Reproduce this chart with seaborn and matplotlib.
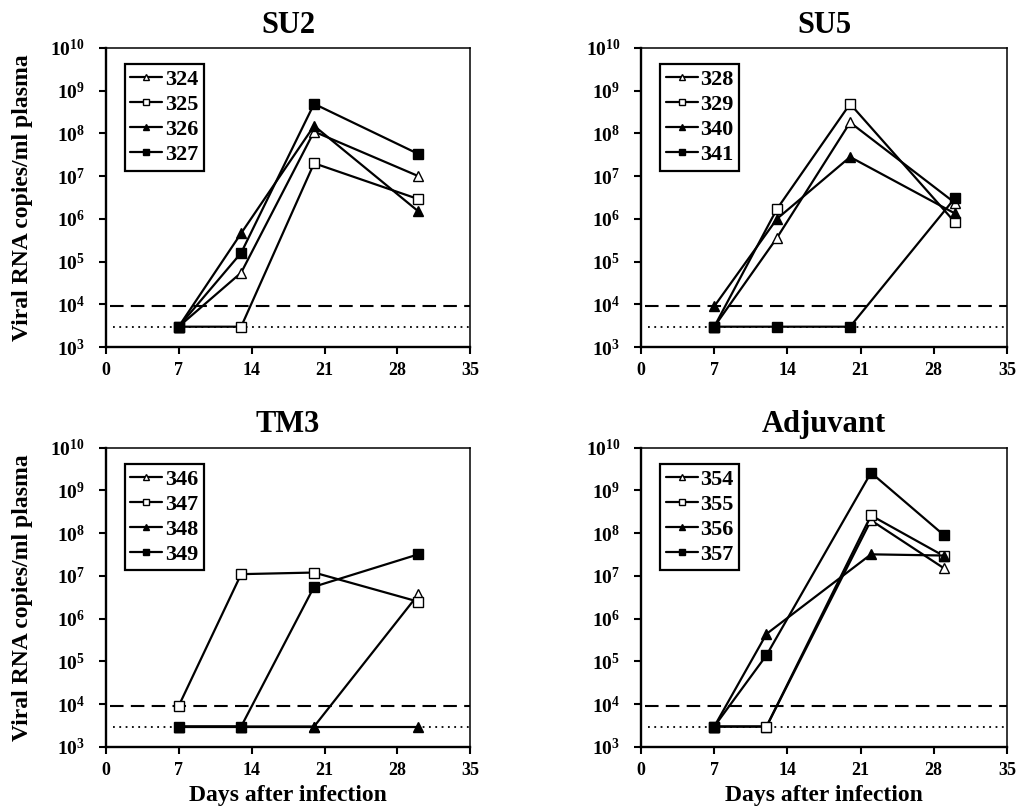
import matplotlib
matplotlib.use("Agg")
import matplotlib.pyplot as plt
import numpy as np
import pandas as pd
import seaborn as sns
from matplotlib.ticker import NullLocator, LogFormatterMathtext

# Viral RNA in plasma after infection, four vaccine groups

panel_titles = ["SU2", "SU5", "TM3", "Adjuvant"]

days_su2 = [7, 13, 20, 30]
su2_ids = ["324", "325", "326", "327"]
su2_vals = [[3e3, 5.5e4, 1.1e8, 1.0e7],
            [3e3, 3e3, 2.0e7, 2.9e6],
            [3e3, 4.6e5, 1.5e8, 1.5e6],
            [3e3, 1.6e5, 4.9e8, 3.3e7]]

days_su5 = [7, 13, 20, 30]
su5_ids = ["328", "329", "340", "341"]
su5_vals = [[3e3, 3.6e5, 1.8e8, 2.4e6],
            [3e3, 1.7e6, 4.9e8, 8.5e5],
            [9e3, 1.0e6, 2.8e7, 1.35e6],
            [3e3, 3e3, 3e3, 3.0e6]]

days_tm3 = [7, 13, 20, 30]
tm3_ids = ["346", "347", "348", "349"]
tm3_vals = [[3e3, 3e3, 3e3, 3.7e6],
            [9e3, 1.1e7, 1.2e7, 2.5e6],
            [3e3, 3e3, 3e3, 3e3],
            [3e3, 3e3, 5.6e6, 3.2e7]]

days_adj = [7, 12, 22, 29]
adj_ids = ["354", "355", "356", "357"]
adj_vals = [[3e3, 3e3, 2.0e8, 1.5e7],
            [3e3, 3e3, 2.6e8, 2.9e7],
            [3e3, 4.4e5, 3.2e7, 3.0e7],
            [3e3, 1.4e5, 2.6e9, 8.9e7]]

cutoff_high = 9e3   # dashed line
cutoff_low = 3e3    # dotted line

panels = [(days_su2, su2_ids, su2_vals),
          (days_su5, su5_ids, su5_vals),
          (days_tm3, tm3_ids, tm3_vals),
          (days_adj, adj_ids, adj_vals)]

markers = ["^", "s", "^", "s"]
faces = ["white", "white", "black", "black"]

sns.set_style("ticks")
plt.rcParams["font.family"] = ["Liberation Serif", "DejaVu Serif"]
plt.rcParams["font.weight"] = "bold"
plt.rcParams["text.color"] = "black"
plt.rcParams["axes.labelcolor"] = "black"
plt.rcParams["mathtext.fontset"] = "custom"
plt.rcParams["mathtext.rm"] = "Liberation Serif:bold"
plt.rcParams["mathtext.bf"] = "Liberation Serif:bold"
plt.rcParams["mathtext.default"] = "bf"

fig = plt.figure(figsize=(10.16, 8.11), dpi=100)
boxes = [[0.104, 0.572, 0.359, 0.369],
         [0.631, 0.572, 0.360, 0.369],
         [0.104, 0.079, 0.359, 0.369],
         [0.631, 0.079, 0.360, 0.369]]

for i, (days, ids, vals) in enumerate(panels):
    ax = fig.add_axes(boxes[i])
    ax.axhline(cutoff_high, xmin=0.012, color="black", lw=1.5, ls=(0, (6.5, 3.5)), zorder=1)
    ax.axhline(cutoff_low, xmin=0.02, color="black", lw=1.3, ls=(0, (1, 2.5)), zorder=1)
    for j, name in enumerate(ids):
        sns.lineplot(x=days, y=vals[j], ax=ax, color="black", linewidth=1.6,
                     marker=markers[j], markersize=6.5, markerfacecolor=faces[j],
                     markeredgecolor="black", markeredgewidth=1.0, label=name, zorder=3)
    ax.set_yscale("log")
    ax.set_ylim(1e3, 1e10)
    ax.set_yticks([10.0 ** k for k in range(3, 11)])
    ax.yaxis.set_major_formatter(LogFormatterMathtext())
    ax.yaxis.set_minor_locator(NullLocator())
    ax.set_xlim(0, 35)
    ax.set_xticks([0, 7, 14, 21, 28, 35])
    ax.tick_params(axis="both", direction="out", length=5, width=1.5, colors="black")
    ax.tick_params(axis="x", labelsize=13, pad=6)
    ax.tick_params(axis="y", labelsize=14, pad=10)
    for lab in ax.get_xticklabels() + ax.get_yticklabels():
        lab.set_fontweight("bold")
    for side, sp in ax.spines.items():
        sp.set_color("black")
        sp.set_linewidth(1.7 if side in ("left", "bottom") else 1.1)
    ax.set_title(panel_titles[i], fontsize=22, fontweight="bold", pad=11)
    if i % 2 == 0:
        ax.set_ylabel("Viral RNA copies/ml plasma", fontsize=17, fontweight="bold", labelpad=12)
    else:
        ax.set_ylabel("")
    if i >= 2:
        ax.set_xlabel("Days after infection", fontsize=17, fontweight="bold", labelpad=4)
    else:
        ax.set_xlabel("")
    leg = ax.legend(loc="upper left", bbox_to_anchor=(0.052, 0.946), frameon=True,
                    fancybox=False, edgecolor="black", framealpha=1,
                    handlelength=1.45, handletextpad=0.12, borderpad=0.25,
                    labelspacing=0.2, borderaxespad=0, markerscale=0.75,
                    prop={"weight": "bold", "size": 16})
    leg.get_frame().set_linewidth(1.6)

fig.savefig("out.png", dpi=100)
